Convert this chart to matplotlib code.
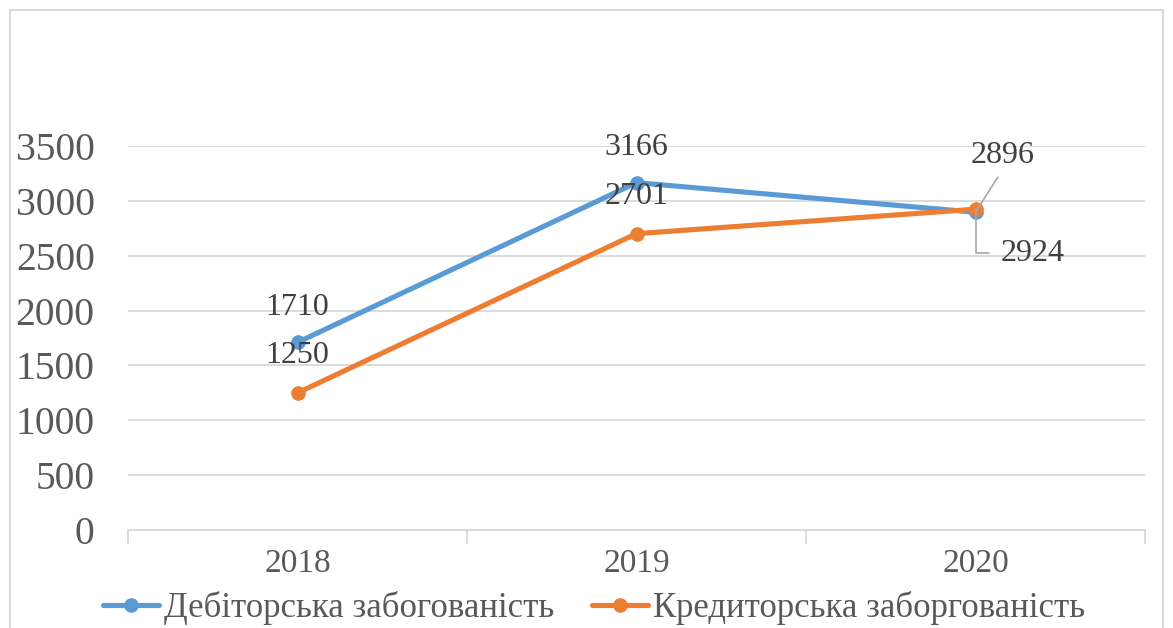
import matplotlib
matplotlib.use("Agg")
import matplotlib.pyplot as plt
from matplotlib.patches import Rectangle

years = ["2018", "2019", "2020"]
debit = [1710, 3166, 2896]
credit = [1250, 2701, 2924]
series_names = ["Дебіторська забогованість", "Кредиторська заборгованість"]
y_ticks = [0, 500, 1000, 1500, 2000, 2500, 3000, 3500]

BLUE = "#5B9BD5"
ORANGE = "#ED7D31"
GRID = "#D9D9D9"

plt.rcParams["font.family"] = ["Liberation Serif", "DejaVu Serif"]

fig = plt.figure(figsize=(11.73, 6.28), dpi=100)
W, H = 1173, 628
ax = fig.add_axes([128 / W, 1 - 530 / H, (1145 - 128) / W, (530 - 146) / H])

# outer border
fig.patches.append(Rectangle((10 / W, -0.05), (1163 - 10) / W, 1 - 10 / H + 0.05,
                             transform=fig.transFigure, fill=False,
                             edgecolor=GRID, linewidth=1.5))

x = list(range(len(years)))
l1, = ax.plot(x, debit, color=BLUE, lw=3.7, marker="o", ms=9.5, zorder=3,
              solid_capstyle="round", label=series_names[0])
l2, = ax.plot(x, credit, color=ORANGE, lw=3.7, marker="o", ms=9.5, zorder=4,
              solid_capstyle="round", label=series_names[1])

ax.set_xlim(-0.5, len(years) - 0.5)
ax.set_ylim(0, 3500)
ax.set_yticks(y_ticks)
ax.set_yticklabels([str(v) for v in y_ticks])
ax.set_xticks(x)
ax.set_xticklabels(years)
ax.set_xticks([i - 0.5 for i in range(len(years) + 1)], minor=True)

ax.grid(axis="y", color=GRID, lw=1.3)
ax.set_axisbelow(True)
for s in ["top", "right", "left"]:
    ax.spines[s].set_visible(False)
ax.spines["bottom"].set_color(GRID)
ax.spines["bottom"].set_linewidth(1.3)
ax.tick_params(axis="y", length=0, pad=24, labelsize=28.5, labelcolor="#595959")
ax.tick_params(axis="x", which="major", length=0, pad=13, labelsize=24, labelcolor="#595959")
ax.tick_params(axis="x", which="minor", length=10, width=1.3, color=GRID)

lab_kw = dict(textcoords="offset pixels", ha="center", va="center",
              fontsize=23, color="#404040", zorder=5)
for i in range(2):
    ax.annotate(str(debit[i]), (x[i], debit[i]), xytext=(0, 35), **lab_kw)
    ax.annotate(str(credit[i]), (x[i], credit[i]), xytext=(0, 37), **lab_kw)

ax.annotate(str(debit[2]), (x[2], debit[2]), xytext=(27, 57), **lab_kw,
            arrowprops=dict(arrowstyle="-", color="#A6A6A6", lw=1.2,
                            relpos=(0.5, 0.0), shrinkA=4, shrinkB=0))
lab2 = dict(lab_kw)
lab2["ha"] = "left"
ax.annotate(str(credit[2]), (x[2], credit[2]), xytext=(25, -44), **lab2,
            arrowprops=dict(arrowstyle="-", color="#A6A6A6", lw=1.2,
                            connectionstyle="angle,angleA=0,angleB=90,rad=0",
                            relpos=(0.0, 0.5), shrinkA=6, shrinkB=0))

leg = fig.legend(handles=[l1, l2], loc="center", bbox_to_anchor=(594 / W, 1 - 608 / H),
                 ncol=2, frameon=False, fontsize=25, handlelength=1.6,
                 handletextpad=0.15, columnspacing=1.1, borderpad=0)
for t in leg.get_texts():
    t.set_color("#595959")

fig.savefig("out.png", dpi=100)
